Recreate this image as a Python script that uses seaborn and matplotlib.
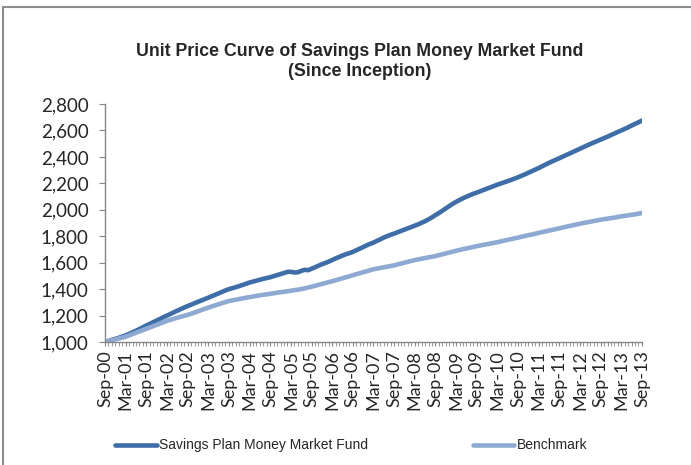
import numpy as np
import pandas as pd
import matplotlib
matplotlib.use("Agg")
import matplotlib.pyplot as plt
from matplotlib.lines import Line2D
from matplotlib.ticker import FuncFormatter, MultipleLocator
import seaborn as sns

# Data (monthly, Sep-00 .. Sep-13)
months = pd.date_range("2000-09-01", "2013-09-01", freq="MS")
month_labels = [d.strftime("%b-%y") for d in months]

fund = [
    1000, 1008, 1016, 1024, 1032, 1041, 1050, 1062, 1073, 1085, 1098, 1111,
    1125, 1137, 1150, 1162, 1175, 1188, 1200, 1212, 1225, 1237, 1249, 1261,
    1272, 1282, 1293, 1304, 1314, 1325, 1335, 1346, 1357, 1368, 1379, 1390,
    1400, 1407, 1415, 1423, 1432, 1441, 1450, 1457, 1464, 1471, 1478, 1484,
    1490, 1498, 1506, 1514, 1522, 1530, 1531, 1526, 1527, 1538, 1546, 1543,
    1554, 1565, 1577, 1588, 1598, 1608, 1620, 1632, 1643, 1654, 1664, 1672,
    1682, 1694, 1706, 1718, 1731, 1742, 1752, 1765, 1777, 1790, 1801, 1811,
    1820, 1830, 1840, 1850, 1860, 1870, 1880, 1890, 1902, 1914, 1928, 1943,
    1960, 1975, 1993, 2010, 2028, 2045, 2060, 2074, 2087, 2099, 2110, 2121,
    2130, 2140, 2150, 2160, 2170, 2180, 2190, 2199, 2208, 2217, 2226, 2236,
    2246, 2257, 2268, 2280, 2292, 2304, 2316, 2329, 2342, 2355, 2367, 2379,
    2390, 2402, 2414, 2426, 2438, 2450, 2462, 2474, 2486, 2498, 2509, 2520,
    2531, 2542, 2553, 2565, 2577, 2589, 2600, 2612, 2624, 2637, 2650, 2662,
    2675,
]

benchmark = [
    1000, 1006, 1013, 1020, 1027, 1033, 1040, 1050, 1060, 1070, 1080, 1090,
    1100, 1110, 1120, 1130, 1140, 1150, 1160, 1168, 1176, 1184, 1191, 1198,
    1205, 1214, 1223, 1232, 1242, 1251, 1260, 1269, 1277, 1286, 1294, 1302,
    1310, 1315, 1320, 1325, 1330, 1335, 1340, 1344, 1349, 1353, 1357, 1361,
    1365, 1369, 1373, 1377, 1380, 1384, 1388, 1392, 1396, 1400, 1406, 1412,
    1418, 1425, 1432, 1439, 1446, 1453, 1460, 1467, 1475, 1482, 1490, 1497,
    1505, 1513, 1520, 1528, 1535, 1543, 1550, 1555, 1560, 1565, 1570, 1575,
    1580, 1587, 1593, 1600, 1607, 1613, 1620, 1625, 1630, 1635, 1640, 1645,
    1650, 1657, 1663, 1670, 1677, 1683, 1690, 1696, 1702, 1708, 1713, 1719,
    1725, 1730, 1735, 1740, 1745, 1750, 1755, 1761, 1767, 1773, 1778, 1784,
    1790, 1796, 1802, 1808, 1813, 1819, 1825, 1831, 1837, 1843, 1848, 1854,
    1860, 1866, 1872, 1878, 1883, 1889, 1895, 1900, 1905, 1910, 1915, 1920,
    1925, 1929, 1933, 1937, 1941, 1946, 1950, 1954, 1958, 1962, 1966, 1971,
    1975,
]

series_names = ["Savings Plan Money Market Fund", "Benchmark"]
colors = ["#3f6da7", "#8eaad2"]

df = pd.DataFrame({
    "idx": np.arange(len(months)),
    series_names[0]: fund,
    series_names[1]: benchmark,
})
df_long = df.melt(id_vars="idx", var_name="series", value_name="price")

# Style
sns.set_style("white")
plt.rcParams["font.family"] = ["Liberation Sans", "DejaVu Sans"]

fig = plt.figure(figsize=(6.91, 4.65), dpi=100)
ax = fig.add_axes([0.152, 0.2645, 0.777, 0.5118])

sns.lineplot(data=df_long, x="idx", y="price", hue="series",
             palette=colors, linewidth=3.3, ax=ax, legend=False)

ax.set_xlim(0, len(months) - 1)
ax.set_ylim(1000, 2800)
ax.yaxis.set_major_locator(MultipleLocator(200))
ax.yaxis.set_major_formatter(FuncFormatter(lambda v, p: f"{int(v):,}"))

tick_pos = list(range(0, len(months), 6))
ax.set_xticks(tick_pos)
ax.set_xticklabels([month_labels[i] for i in tick_pos], rotation=90,
                   fontsize=13, family=["Lato", "DejaVu Sans"])
ax.set_xticks(range(len(months)), minor=True)
for lab in ax.get_yticklabels():
    lab.set_family(["Lato", "DejaVu Sans"])
    lab.set_fontsize(13.5)

ax.set_xlabel("")
ax.set_ylabel("")
for s in ["top", "right"]:
    ax.spines[s].set_visible(False)
for s in ["left", "bottom"]:
    ax.spines[s].set_color("#868686")
    ax.spines[s].set_linewidth(1.0)
ax.tick_params(axis="y", which="major", direction="out", length=4,
               color="#868686", left=True, pad=8)
ax.tick_params(axis="x", which="both", direction="out", length=3,
               color="#868686", bottom=True, pad=3)

fig.text(0.52, 0.868, "Unit Price Curve of Savings Plan Money Market Fund\n(Since Inception)",
         ha="center", va="center", fontsize=12.8, fontweight="bold", linespacing=1.2)

# Legend
handles = [Line2D([], [], color=c, linewidth=3.3) for c in colors]
fig.legend(handles, series_names, loc="center", bbox_to_anchor=(0.508, 0.042),
           ncol=2, frameon=False, fontsize=10, handlelength=3.0,
           handletextpad=0.15, columnspacing=7.55)

# Chart area border (top and left visible)
fig.add_artist(Line2D([3 / 691, 3 / 691], [0, 1 - 7 / 465], transform=fig.transFigure,
                      color="#8c8c8c", linewidth=1.5))
fig.add_artist(Line2D([3 / 691, 1], [1 - 7 / 465, 1 - 7 / 465], transform=fig.transFigure,
                      color="#8c8c8c", linewidth=1.5))

fig.savefig("out.png", dpi=100)
